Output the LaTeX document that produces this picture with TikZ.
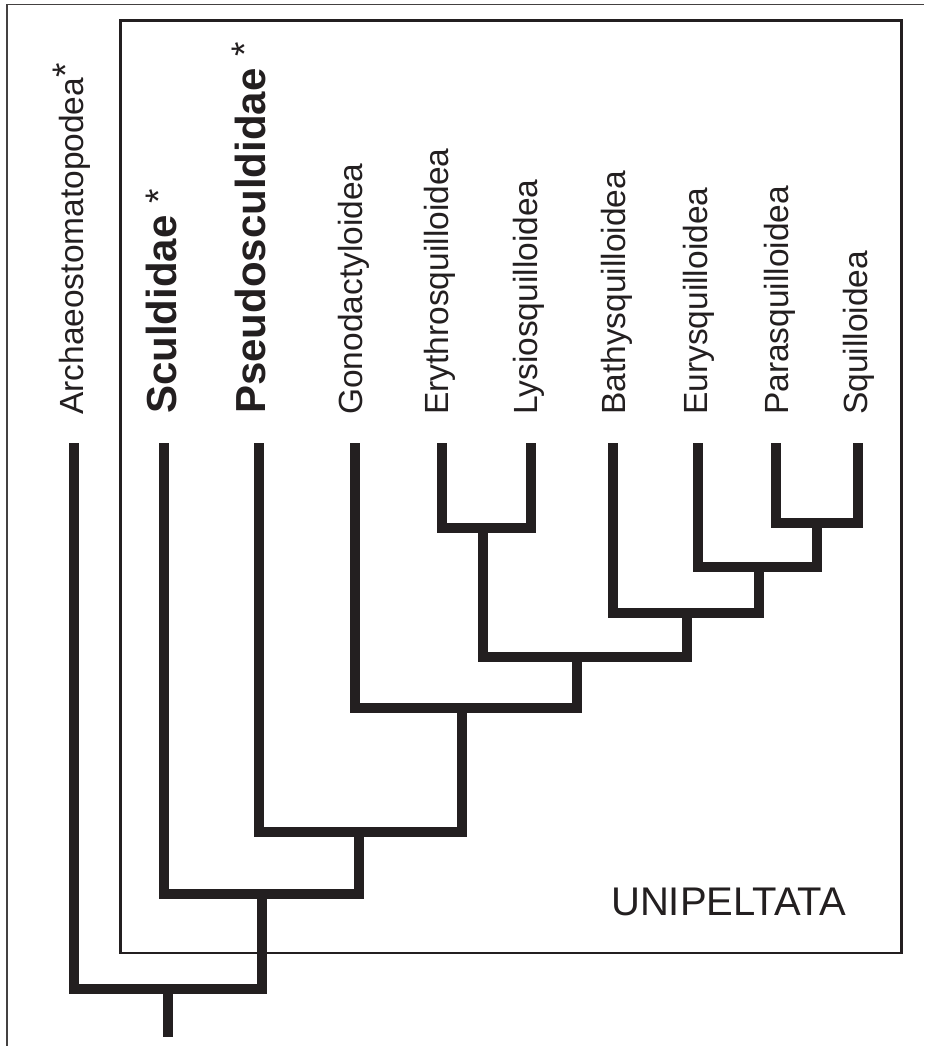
\documentclass[tikz,border=0pt]{standalone}
\usepackage{fontspec}
\setmainfont{Liberation Sans}
\definecolor{ink}{HTML}{231F20}
\begin{document}
\begin{tikzpicture}[x=1pt,y=1pt,
  branch/.style={line width=10pt, draw=ink, line join=miter, line cap=butt},
  lab/.style={rotate=90, anchor=base west, inner sep=0pt, text=ink, font=\fontsize{33.5}{36}\selectfont},
  blab/.style={lab, font=\fontsize{42}{44}\selectfont\bfseries},
  ast/.style={}]
\fill[white] (0,0) rectangle (924,-1046);
\useasboundingbox (0,0) rectangle (924,-1046);
% outer frame (clipped by the page)
\draw[line width=1.3pt, draw=ink!85] (7,-1046) -- (7,-4.3) -- (924,-4.3);
% inner box
\draw[line width=2.6pt, draw=ink] (120.7,-20.7) rectangle (901.5,-953);
\node[anchor=base west, inner sep=0pt, text=ink, font=\fontsize{40}{44}\selectfont] (uni) at (611,-915) {UNIPELTATA};

% labels
\newcommand{\astA}[1]{\raisebox{#1}{\fontsize{37}{40}\selectfont\mdseries *}}
\node[lab]  (lA)  at (83,-415)    {Archaeostomatopodea\astA{4.5pt}};
\node[blab] (lS)  at (176,-414)   {Sculdidae \astA{4.5pt}};
\node[blab] (lP)  at (265,-414)   {Pseudosculdidae \astA{8pt}};
\node[lab]  (lG)  at (362,-415)   {Gonodactyloidea};
\node[lab]  (lE)  at (448,-415)   {Erythrosquilloidea};
\node[lab]  (lL)  at (537,-415)   {Lysiosquilloidea};
\node[lab]  (lB)  at (625,-415)   {Bathysquilloidea};
\node[lab]  (lEu) at (707,-415)   {Eurysquilloidea};
\node[lab]  (lPa) at (788,-415)   {Parasquilloidea};
\node[lab]  (lSq) at (867,-415)   {Squilloidea};

% leaf tips
\coordinate (A)  at (73.7,-443);
\coordinate (S)  at (164,-443);
\coordinate (P)  at (259,-443);
\coordinate (G)  at (355,-443);
\coordinate (E)  at (441.7,-443);
\coordinate (L)  at (531,-443);
\coordinate (B)  at (613,-443);
\coordinate (Eu) at (698,-443);
\coordinate (Pa) at (775.7,-443);
\coordinate (Sq) at (857.7,-443);
% internal nodes (bar centres)
\coordinate (nEL)  at (482.6,-528);
\coordinate (nPS)  at (817.4,-523);
\coordinate (nEu)  at (758.5,-567);
\coordinate (nB)   at (686.7,-613);
\coordinate (nELB) at (576.6,-657);
\coordinate (nG)   at (461.7,-708);
\coordinate (nP)   at (359,-832);
\coordinate (nS)   at (261.5,-894);
\coordinate (nA)   at (168.4,-988.5);
\coordinate (root) at (168.4,-1037);

% tree
\draw[branch] (E) |- (nEL) -| (L);
\draw[branch] (Pa) |- (nPS) -| (Sq);
\draw[branch] (Eu) |- (nEu) -| (nPS);
\draw[branch] (B) |- (nB) -| (nEu);
\draw[branch] (nEL) |- (nELB) -| (nB);
\draw[branch] (G) |- (nG) -| (nELB);
\draw[branch] (P) |- (nP) -| (nG);
\draw[branch] (S) |- (nS) -| (nP);
\draw[branch] (A) |- (nA) -| (nS);
\draw[branch] (nA) -- (root);
\end{tikzpicture}
\end{document}
